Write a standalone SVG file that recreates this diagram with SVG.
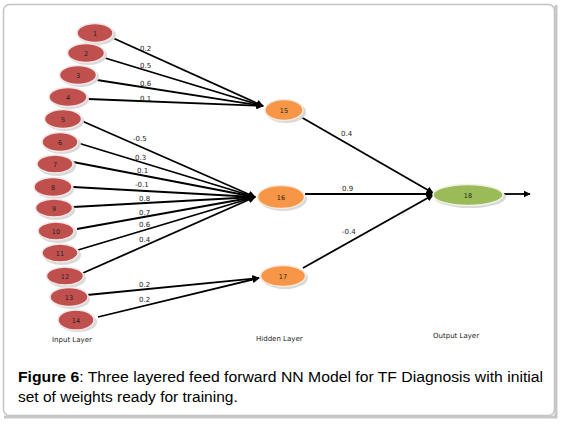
<svg xmlns="http://www.w3.org/2000/svg" width="561" height="425" viewBox="0 0 561 425">
<defs>
<style>
.frame{fill:none;stroke:#c4c4c4;stroke-width:1.5}
.shadow{fill:#d9d9d9}
.inp{fill:#c0504d;stroke:#f3e6e6;stroke-width:1.5}
.hid{fill:#f79646;stroke:#f6e8dc;stroke-width:1.5}
.out{fill:#9bbb59;stroke:#eef3e4;stroke-width:1.5}
.nl{font-family:"DejaVu Sans",sans-serif;font-size:6.5px;fill:#222;text-anchor:middle}
.w{font-family:"DejaVu Sans",sans-serif;font-size:7px;fill:#222}
.ll{font-family:"DejaVu Sans",sans-serif;font-size:7px;fill:#222}
.c{stroke:#000;stroke-width:1.8;fill:none}
.cap{font-family:"Liberation Sans",Arial,sans-serif;font-size:15.5px;fill:#000}
</style>
<marker id="ah" viewBox="0 0 10 10" refX="9" refY="5" markerWidth="4" markerHeight="4" orient="auto" markerUnits="strokeWidth">
<path d="M0,0 L10,5 L0,10 z" fill="#000"/>
</marker>
</defs>
<rect x="0" y="0" width="561" height="425" fill="#fff"/>
<path d="M556,5 L556,417 L4,417" fill="none" stroke="#c8c8c8" stroke-width="3"/>
<rect class="frame" x="3.5" y="4.5" width="551" height="411" rx="6"/>

<g id="connectors">
<line class="c" x1="113" y1="38" x2="263" y2="106" marker-end="url(#ah)"/>
<line class="c" x1="105" y1="58" x2="263" y2="106" marker-end="url(#ah)"/>
<line class="c" x1="97" y1="80" x2="263" y2="106" marker-end="url(#ah)"/>
<line class="c" x1="88" y1="99" x2="263" y2="106" marker-end="url(#ah)"/>
<line class="c" x1="82" y1="121" x2="255" y2="197" marker-end="url(#ah)"/>
<line class="c" x1="78" y1="143" x2="255" y2="197" marker-end="url(#ah)"/>
<line class="c" x1="73" y1="162" x2="255" y2="197" marker-end="url(#ah)"/>
<line class="c" x1="73" y1="187" x2="255" y2="197" marker-end="url(#ah)"/>
<line class="c" x1="73" y1="207" x2="255" y2="197" marker-end="url(#ah)"/>
<line class="c" x1="77" y1="229" x2="255" y2="197" marker-end="url(#ah)"/>
<line class="c" x1="78" y1="250" x2="255" y2="197" marker-end="url(#ah)"/>
<line class="c" x1="83" y1="273" x2="255" y2="197" marker-end="url(#ah)"/>
<line class="c" x1="87" y1="295" x2="259" y2="278" marker-end="url(#ah)"/>
<line class="c" x1="98" y1="317" x2="259" y2="278" marker-end="url(#ah)"/>
<line class="c" x1="301" y1="117" x2="433" y2="193" marker-end="url(#ah)"/>
<line class="c" x1="305" y1="194" x2="433" y2="194" marker-end="url(#ah)"/>
<line class="c" x1="303" y1="268" x2="433" y2="195" marker-end="url(#ah)"/>
<line class="c" x1="504" y1="194" x2="530" y2="194" marker-end="url(#ah)"/>
<text class="w" x="140" y="51">0.2</text>
<text class="w" x="140" y="68">0.5</text>
<text class="w" x="140" y="86">0.6</text>
<text class="w" x="140" y="101">0.1</text>
<text class="w" x="133" y="141">-0.5</text>
<text class="w" x="135" y="160">0.3</text>
<text class="w" x="137" y="173">0.1</text>
<text class="w" x="135" y="187">-0.1</text>
<text class="w" x="139" y="201">0.8</text>
<text class="w" x="139" y="215">0.7</text>
<text class="w" x="139" y="227">0.6</text>
<text class="w" x="139" y="242">0.4</text>
<text class="w" x="139" y="287">0.2</text>
<text class="w" x="139" y="302">0.2</text>
<text class="w" x="341" y="136">0.4</text>
<text class="w" x="342" y="191">0.9</text>
<text class="w" x="342" y="234">-0.4</text>
</g>

<g id="n1"><ellipse class="shadow" cx="97" cy="35" rx="19" ry="10"/><ellipse class="inp" cx="95" cy="33" rx="18" ry="9.5"/><text class="nl" x="95" y="35.5">1</text></g>
<g id="n2"><ellipse class="shadow" cx="88" cy="55" rx="19" ry="10"/><ellipse class="inp" cx="86" cy="53" rx="18.5" ry="9.5"/><text class="nl" x="86" y="55.5">2</text></g>
<g id="n3"><ellipse class="shadow" cx="80" cy="77" rx="19" ry="10"/><ellipse class="inp" cx="78" cy="75" rx="18.5" ry="9.5"/><text class="nl" x="78" y="77.5">3</text></g>
<g id="n4"><ellipse class="shadow" cx="70" cy="99" rx="19" ry="10"/><ellipse class="inp" cx="68" cy="97" rx="19" ry="9.5"/><text class="nl" x="68" y="99.5">4</text></g>
<g id="n5"><ellipse class="shadow" cx="65" cy="121" rx="19" ry="10"/><ellipse class="inp" cx="63" cy="119" rx="18.5" ry="9.5"/><text class="nl" x="63" y="121.5">5</text></g>
<g id="n6"><ellipse class="shadow" cx="62" cy="144" rx="19" ry="10"/><ellipse class="inp" cx="60" cy="142" rx="18" ry="9.5"/><text class="nl" x="60" y="144.5">6</text></g>
<g id="n7"><ellipse class="shadow" cx="57" cy="166" rx="19" ry="10"/><ellipse class="inp" cx="55" cy="164" rx="18" ry="9"/><text class="nl" x="55" y="166.5">7</text></g>
<g id="n8"><ellipse class="shadow" cx="55" cy="189" rx="19" ry="10"/><ellipse class="inp" cx="53" cy="187" rx="19" ry="9.5"/><text class="nl" x="53" y="189.5">8</text></g>
<g id="n9"><ellipse class="shadow" cx="56" cy="210" rx="19" ry="10"/><ellipse class="inp" cx="54" cy="208" rx="18.5" ry="9"/><text class="nl" x="54" y="210.5">9</text></g>
<g id="n10"><ellipse class="shadow" cx="58" cy="233" rx="19" ry="10"/><ellipse class="inp" cx="56" cy="231" rx="18" ry="9"/><text class="nl" x="56" y="233.5">10</text></g>
<g id="n11"><ellipse class="shadow" cx="62" cy="255" rx="19" ry="10"/><ellipse class="inp" cx="60" cy="253" rx="18" ry="9"/><text class="nl" x="60" y="255.5">11</text></g>
<g id="n12"><ellipse class="shadow" cx="67" cy="278" rx="19" ry="10"/><ellipse class="inp" cx="65" cy="276" rx="18.5" ry="9"/><text class="nl" x="65" y="278.5">12</text></g>
<g id="n13"><ellipse class="shadow" cx="71" cy="299" rx="19" ry="10"/><ellipse class="inp" cx="69" cy="297" rx="19" ry="9.5"/><text class="nl" x="69" y="299.5">13</text></g>
<g id="n14"><ellipse class="shadow" cx="78" cy="322" rx="19" ry="10"/><ellipse class="inp" cx="76" cy="320" rx="18" ry="10"/><text class="nl" x="76" y="322.5">14</text></g>

<g id="n15"><ellipse class="shadow" cx="286" cy="112" rx="20" ry="11"/><ellipse class="hid" cx="284" cy="110" rx="19" ry="10.5"/><text class="nl" x="284" y="112.5">15</text></g>
<g id="n16"><ellipse class="shadow" cx="283" cy="199" rx="24" ry="12"/><ellipse class="hid" cx="281" cy="197" rx="23.5" ry="11.5"/><text class="nl" x="281" y="199.5">16</text></g>
<g id="n17"><ellipse class="shadow" cx="285" cy="278" rx="23" ry="11"/><ellipse class="hid" cx="283" cy="276" rx="22.5" ry="10.5"/><text class="nl" x="283" y="278.5">17</text></g>
<g id="n18"><ellipse class="shadow" cx="470" cy="197" rx="36" ry="11"/><ellipse class="out" cx="468" cy="195" rx="35" ry="10.5"/><text class="nl" x="468" y="197.5">18</text></g>

<g id="layers">
<text class="ll" x="52" y="342">Input Layer</text>
<text class="ll" x="256" y="341">Hidden Layer</text>
<text class="ll" x="433" y="338">Output Layer</text>
</g>

<g id="caption">
<text class="cap" x="18" y="382" textLength="525" lengthAdjust="spacingAndGlyphs"><tspan font-weight="bold">Figure 6</tspan>: Three layered feed forward NN Model for TF Diagnosis with initial</text>
<text class="cap" x="18" y="402">set of weights ready for training.</text>
</g>
</svg>
